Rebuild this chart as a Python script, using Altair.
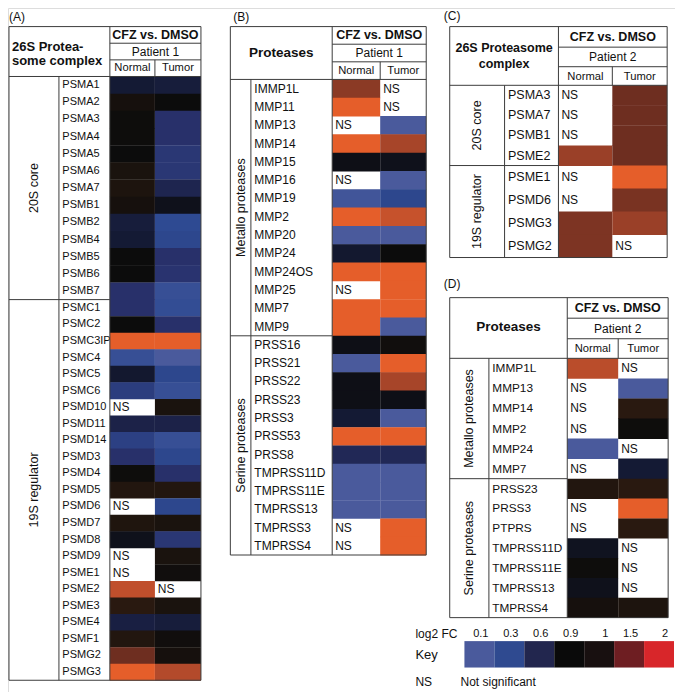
import altair as alt
import pandas as pd

# ---------------- data ----------------
# Panel A: 26S proteasome complex, patient 1  (None = NS)
A_20S_genes = ["PSMA1", "PSMA2", "PSMA3", "PSMA4", "PSMA5", "PSMA6", "PSMA7",
               "PSMB1", "PSMB2", "PSMB4", "PSMB5", "PSMB6", "PSMB7"]
A_20S_normal = [-0.8, 0.2, 0.05, 0.05, 0.0, 0.3, 0.35, 0.2, -0.9, -0.8, 0.0, 0.0, -1.6]
A_20S_tumor = [-0.9, 0.0, -1.6, -1.6, -1.8, -1.8, -1.2, -0.3, -2.4, -2.3, -1.6, -1.7, -2.6]
A_19S_genes = ["PSMC1", "PSMC2", "PSMC3IP", "PSMC4", "PSMC5", "PSMC6", "PSMD10",
               "PSMD11", "PSMD14", "PSMD3", "PSMD4", "PSMD5", "PSMD6", "PSMD7",
               "PSMD8", "PSMD9", "PSME1", "PSME2", "PSME3", "PSME4", "PSMF1",
               "PSMG2", "PSMG3"]
A_19S_normal = [-1.6, 0.0, 3.0, -2.6, -0.7, -2.0, None, -1.1, -2.1, -1.6, 0.05, 0.45,
                None, 0.4, -0.3, None, None, 2.4, 0.55, -1.0, 0.45, 1.2, 3.0]
A_19S_tumor = [-2.5, -1.6, 3.0, -3.0, -2.3, -2.6, 0.3, -1.1, -2.6, -2.3, -1.6, 0.45,
               -2.3, 0.3, -1.8, 0.3, 0.1, None, 0.3, -0.9, 0.1, 0.2, 2.2]

# Panel B: proteases, patient 1
B_met_genes = ["IMMP1L", "MMP11", "MMP13", "MMP14", "MMP15", "MMP16", "MMP19", "MMP2",
               "MMP20", "MMP24", "MMP24OS", "MMP25", "MMP7", "MMP9"]
B_met_normal = [1.6, 3.0, None, 3.0, -0.2, None, -2.8, 3.0, -3.0, -0.7, 3.0, None, 3.0, 3.0]
B_met_tumor = [None, None, -3.0, 2.0, -0.3, -3.0, -2.3, 2.5, -3.0, 0.0, 3.0, 3.0, 3.0, -3.0]
B_ser_genes = ["PRSS16", "PRSS21", "PRSS22", "PRSS23", "PRSS3", "PRSS53", "PRSS8",
               "TMPRSS11D", "TMPRSS11E", "TMPRSS13", "TMPRSS3", "TMPRSS4"]
B_ser_normal = [-0.2, -3.0, -0.2, -0.2, -0.8, 3.0, -1.3, -3.0, -3.0, -3.0, None, None]
B_ser_tumor = [0.1, 3.0, 2.0, -0.2, -3.0, 3.0, -1.3, -3.0, -3.0, -3.0, 3.0, 3.0]

# Panel C: 26S proteasome complex, patient 2
C_20S_genes = ["PSMA3", "PSMA7", "PSMB1", "PSME2"]
C_20S_normal = [None, None, None, 1.8]
C_20S_tumor = [1.2, 1.2, 1.2, 1.2]
C_19S_genes = ["PSME1", "PSMD6", "PSMG3", "PSMG2"]
C_19S_normal = [None, None, 1.4, 1.4]
C_19S_tumor = [3.0, 1.35, 1.8, None]

# Panel D: proteases, patient 2
D_met_genes = ["IMMP1L", "MMP13", "MMP14", "MMP2", "MMP24", "MMP7"]
D_met_normal = [2.3, None, None, None, -3.0, None]
D_met_tumor = [None, -3.0, 0.55, 0.05, None, -0.8]
D_ser_genes = ["PRSS23", "PRSS3", "PTPRS", "TMPRSS11D", "TMPRSS11E", "TMPRSS13", "TMPRSS4"]
D_ser_normal = [0.45, None, None, -0.4, 0.05, -0.3, 0.2]
D_ser_tumor = [0.55, 3.0, 0.55, None, None, None, 0.35]

# Key
key_labels = ["0.1", "0.3", "0.6", "0.9", "1", "1.5", "2"]
key_colors = ["#4a5a9c", "#2f4a90", "#22264e", "#0a0a0a", "#181010", "#6e1e22", "#d8262a"]

# cell colour scale (value -> colour)
cell_domain = [-3, -2.4, -1.6, -0.8, 0, 0.5, 1.2, 1.8, 2.4, 3]
cell_range = ["#4a5a9c", "#2e4a92", "#28306a", "#141a34", "#0c0c0c", "#24170f",
              "#6e2e20", "#9a4028", "#c04f2c", "#e55e2a"]

# ---------------- layout ----------------
panels = [
    dict(label="(A)", lab=(3, 11), left=3, right=199, top=21, h1=38, h2=55, hb=72,
         dataL=106, mid=152, gx=54, gene_fs=11, patient="Patient 1",
         groups=[("20S core", A_20S_genes, A_20S_normal, A_20S_tumor, 300),
                 ("19S regulator", A_19S_genes, A_19S_normal, A_19S_tumor, 689)],
         title=["26S Protea-", "some complex"], tkind="lb", tx=6, tys=[42, 56.5], tfs=13,
         cfz_y=30, pat_y=46.5, nt_y=63.5),
    dict(label="(B)", lab=(232, 11), left=229, right=429, top=21, h1=39, h2=57, hb=75,
         dataL=333, mid=382, gx=250, gene_fs=12, patient="Patient 1",
         groups=[("Metallo proteases", B_met_genes, B_met_normal, B_met_tumor, 337),
                 ("Serine proteases", B_ser_genes, B_ser_normal, B_ser_tumor, 561)],
         title=["Proteases"], tkind="cb", tx=281, tys=[48], tfs=13.5,
         cfz_y=30, pat_y=48, nt_y=66.5),
    dict(label="(C)", lab=(447, 10), left=453, right=675, top=21, h1=42, h2=62, hb=81,
         dataL=564, mid=619, gx=509, gene_fs=12.5, patient="Patient 2",
         groups=[("20S core", C_20S_genes, C_20S_normal, C_20S_tumor, 163),
                 ("19S regulator", C_19S_genes, C_19S_normal, C_19S_tumor, 257)],
         title=["26S Proteasome", "complex"], tkind="cb", tx=508.5, tys=[43, 59.5], tfs=12.5,
         cfz_y=31.5, pat_y=52, nt_y=72.5),
    dict(label="(D)", lab=(447, 284), left=453, right=676, top=298, h1=319, h2=340, hb=360,
         dataL=573, mid=625, gx=493, gene_fs=11.8, patient="Patient 2",
         groups=[("Metallo proteases", D_met_genes, D_met_normal, D_met_tumor, 483),
                 ("Serine proteases", D_ser_genes, D_ser_normal, D_ser_tumor, 625)],
         title=["Proteases"], tkind="cb", tx=513, tys=[328], tfs=13.5,
         cfz_y=309, pat_y=330, nt_y=350.5),
]

cells, texts, lines = [], [], []


def T(x, y, s, fs, kind):
    texts.append(dict(x=x, y=y, text=s, fs=fs, kind=kind))


def L(x, y, x2, y2):
    lines.append(dict(x=x, y=y, x2=x2, y2=y2))


for p in panels:
    T(p["lab"][0], p["lab"][1], p["label"], 12, "ln")
    for s, ty in zip(p["title"], p["tys"]):
        T(p["tx"], ty, s, p["tfs"], p["tkind"])
    dl, mid, r = p["dataL"], p["mid"], p["right"]
    T((dl + r) / 2, p["cfz_y"], "CFZ vs. DMSO", 12.5, "cb")
    T((dl + r) / 2, p["pat_y"], p["patient"], 12, "cn")
    T((dl + mid) / 2, p["nt_y"], "Normal", 11.2, "cn")
    T((mid + r) / 2, p["nt_y"], "Tumor", 11.2, "cn")
    start = p["hb"]
    for gi, (gname, genes, nv, tv, gbot) in enumerate(p["groups"]):
        rh = (gbot - start) / len(genes)
        T((p["left"] + p["gx"]) / 2, (start + gbot) / 2, gname, 12.5, "rot")
        for i, g in enumerate(genes):
            y0 = start + i * rh
            y1 = y0 + rh
            T(p["gx"] + 3.5, (y0 + y1) / 2, g, p["gene_fs"], "gene")
            for (cx0, cx1, v) in ((dl, mid, nv[i]), (mid, r, tv[i])):
                if v is None:
                    T(cx0 + 3, (y0 + y1) / 2, "NS", 12, "ln")
                else:
                    cells.append(dict(x=cx0, x2=cx1, y=y0, y2=y1 + 0.4, v=v))
        if gi < len(p["groups"]) - 1:
            L(p["left"], gbot, dl, gbot)
        start = gbot
    bottom = start
    # table lines
    L(dl, p["h1"], r, p["h1"])
    L(dl, p["h2"], r, p["h2"])
    L(p["left"], p["hb"], r, p["hb"])
    L(dl, p["top"], dl, bottom)
    L(mid, p["h2"], mid, p["hb"])
    L(p["gx"], p["hb"], p["gx"], bottom)
    L(p["left"], p["top"], r, p["top"])
    L(p["left"], bottom, r, bottom)
    L(p["left"], p["top"], p["left"], bottom)
    L(r, p["top"], r, bottom)

# key
kx0, kx1, ky0, ky1 = 468, 682, 649, 676
kw = (kx1 - kx0) / len(key_labels)
key_rows = []
for i, lab in enumerate(key_labels):
    key_rows.append(dict(x=kx0 + i * kw, x2=kx0 + (i + 1) * kw, y=ky0, y2=ky1, lab=lab))
    T(kx0 + (i + 1) * kw - 6, 641.5, lab, 11, "rn")
T(418, 642, "log2 FC", 12, "ln")
T(418, 663, "Key", 13, "ln")
T(418, 691, "NS", 12, "ln")
T(464, 691, "Not significant", 12, "ln")

cells_df = pd.DataFrame(cells)
texts_df = pd.DataFrame(texts)
lines_df = pd.DataFrame(lines)
key_df = pd.DataFrame(key_rows)

xs = alt.Scale(domain=[2, 683], nice=False, zero=False)
ys = alt.Scale(domain=[2, 701], nice=False, zero=False, reverse=True)
X = lambda f="x": alt.X(f + ":Q", scale=xs, axis=None)
Y = lambda f="y": alt.Y(f + ":Q", scale=ys, axis=None)

cell_layer = alt.Chart(cells_df).mark_rect().encode(
    x=X(), x2="x2:Q", y=Y(), y2="y2:Q",
    color=alt.Color("v:Q", scale=alt.Scale(domain=cell_domain, range=cell_range,
                                           interpolate="rgb"), legend=None),
)
key_layer = alt.Chart(key_df).mark_rect().encode(
    x=X(), x2="x2:Q", y=Y(), y2="y2:Q",
    color=alt.Color("lab:N", scale=alt.Scale(domain=key_labels, range=key_colors),
                    legend=None),
)
line_layer = alt.Chart(lines_df).mark_rule(color="#3c3c3c", strokeWidth=1).encode(
    x=X(), x2="x2:Q", y=Y(), y2="y2:Q"
)


def text_layer(kind, **kw):
    df = texts_df[texts_df["kind"] == kind]
    return alt.Chart(df).mark_text(baseline="middle", color="#111111", **kw).encode(
        x=X(), y=Y(), text="text:N", size=alt.Size("fs:Q", scale=None)
    )


layers = [
    text_layer("gene", align="left"),
    cell_layer, key_layer, line_layer,
    text_layer("ln", align="left"),
    text_layer("lb", align="left", fontWeight="bold"),
    text_layer("cn", align="center"),
    text_layer("cb", align="center", fontWeight="bold"),
    text_layer("rn", align="right"),
    text_layer("rot", align="center", angle=270),
]

chart = alt.layer(*layers).resolve_scale(color="independent").properties(
    width=667, height=684, padding=0, autosize=alt.AutoSizeParams(type="none")
).configure_view(stroke=None).configure(font="Liberation Sans")

chart.save("out.html", embed_options={"renderer": "svg", "actions": False})
